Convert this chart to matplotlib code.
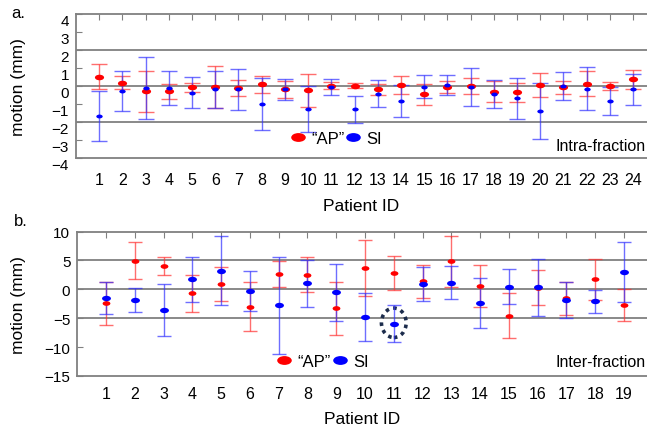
import numpy as np
import matplotlib
matplotlib.use('Agg')
import matplotlib.pyplot as plt
import matplotlib.transforms as mtransforms
from matplotlib.path import Path
from matplotlib.patches import Ellipse
from matplotlib.lines import Line2D

plt.rcParams['font.family'] = ['Liberation Sans', 'DejaVu Sans']

# intra-fraction (panel a)
ids_intra = np.arange(1, 25)
ap_intra = [0.52, 0.19, -0.28, -0.30, -0.07, -0.07, -0.13, 0.09, -0.19, -0.24, 0.02, 0.02,
            -0.19, 0.07, -0.46, -0.06, 0.02, -0.31, -0.35, 0.06, -0.06, 0.13, 0.02, 0.37]
ap_intra_err = [0.70, 0.37, 1.14, 0.40, 0.25, 1.17, 0.45, 0.46, 0.45, 0.93, 0.18, 0.15,
                0.33, 0.50, 0.60, 0.33, 0.45, 0.57, 0.52, 0.66, 0.36, 0.70, 0.22, 0.52]
si_intra = [-1.65, -0.28, -0.11, -0.13, -0.37, -0.19, -0.17, -1.00, -0.19, -1.30, -0.07, -1.30,
            -0.44, -0.83, -0.04, 0.06, -0.07, -0.44, -0.69, -1.39, 0.00, -0.15, -0.83, -0.17]
si_intra_err = [1.40, 1.10, 1.72, 0.94, 0.85, 1.02, 1.14, 1.43, 0.56, 1.28, 0.45, 0.75,
                0.75, 0.87, 0.65, 0.58, 1.05, 0.77, 1.14, 1.54, 0.77, 1.20, 0.80, 0.86]

# inter-fraction (panel b)
ids_inter = np.arange(1, 20)
ap_inter = [-2.44, 4.94, 4.07, -0.70, 0.93, -2.97, 2.67, 2.56, -3.26, 3.72, 2.85, 1.40,
            4.88, 0.52, -4.53, 0.29, -1.57, 1.74, -2.73]
ap_inter_err = [3.8, 3.2, 1.57, 3.23, 2.95, 4.2, 2.27, 3.08, 4.6, 4.9, 2.9, 2.85,
                4.4, 3.66, 3.9, 3.05, 2.8, 3.55, 2.75]
si_inter = [-1.45, -1.86, -3.55, 1.74, 3.26, -0.23, -2.73, 1.05, -0.52, -4.77, -5.99, 0.87,
            1.16, -2.38, 0.47, 0.35, -1.86, -2.09, 3.02]
si_inter_err = [2.8, 2.07, 4.5, 3.9, 5.9, 3.43, 8.4, 4.1, 4.97, 4.2, 3.2, 2.95,
                2.9, 4.27, 2.97, 4.97, 3.1, 2.03, 5.2]
flagged = 11  # circled patient in panel b (SI)

ellipse = Path.unit_circle().transformed(mtransforms.Affine2D().scale(1.65, 1.0))
grey = '#808080'


def panel(ax, ids, ap, ap_err, si, si_err, ylim, yticks, hlines, xmax, msz, capsize):
    ax.errorbar(ids, ap, yerr=ap_err, fmt='none', ecolor='#ff3030', alpha=0.7,
                elinewidth=1.0, capsize=capsize, capthick=1.0)
    ax.errorbar(ids, si, yerr=si_err, fmt='none', ecolor='#3030ff', alpha=0.7,
                elinewidth=1.0, capsize=capsize, capthick=1.0)
    ax.plot(ids, ap, ls='none', marker=ellipse, ms=msz[0], color='#ff0000', mec='none')
    ax.plot(ids, si, ls='none', marker=ellipse, ms=msz[1], color='#0000ff', mec='none')
    for h in hlines:
        ax.axhline(h, color=grey, lw=1.3, zorder=0)
    ax.set_xlim(0, xmax)
    ax.set_ylim(*ylim)
    ax.set_xticks(ids)
    ax.set_yticks(yticks)
    ax.spines['right'].set_visible(False)
    for s in ['left', 'top', 'bottom']:
        ax.spines[s].set_color(grey)
        ax.spines[s].set_linewidth(1.3)
    ax.tick_params(axis='x', direction='in', top=True, bottom=False, labelbottom=True,
                   length=4, color=grey, labelsize=11.5)
    ax.tick_params(axis='y', direction='in', length=4, color=grey, labelsize=11, pad=5)
    ax.set_ylabel('motion (mm)', fontsize=12.5)
    ax.set_xlabel('Patient ID', fontsize=12.5)
    handles = [Line2D([], [], ls='none', marker=ellipse, ms=10.5, color='#ff0000', mec='none'),
               Line2D([], [], ls='none', marker=ellipse, ms=10.5, color='#0000ff', mec='none')]
    return handles


fig = plt.figure(figsize=(6.47, 4.31), dpi=100)

ax1 = fig.add_axes([0.1175, 0.631, 0.8825, 0.334])
h = panel(ax1, ids_intra, ap_intra, ap_intra_err, si_intra, si_intra_err,
          (-4, 4), np.arange(-4, 5), [-2, 0, 2], 24.6, (6.6, 4.6), 5.5)
ax1.tick_params(axis='x', pad=10)
off = mtransforms.ScaledTranslation(0, -0.05, fig.dpi_scale_trans)
for t in ax1.yaxis.get_major_ticks():
    t.label1.set_transform(t.label1.get_transform() + off)
ax1.xaxis.set_label_coords(0.5, -0.275)
ax1.yaxis.set_label_coords(-0.088, 0.5)
ax1.legend(h, ['\u201cAP\u201d', 'SI'], ncol=2, frameon=False, loc='center',
           bbox_to_anchor=(0.455, 0.135), handlelength=1.0, handletextpad=0.3,
           columnspacing=0.05, fontsize=12, borderpad=0)
ax1.text(0.998, 0.09, 'Intra-fraction', transform=ax1.transAxes, ha='right', va='center',
         fontsize=11.5)

ax2 = fig.add_axes([0.1195, 0.1253, 0.8805, 0.335])
h = panel(ax2, ids_inter, ap_inter, ap_inter_err, si_inter, si_inter_err,
          (-15, 10), np.arange(-15, 11, 5), [-5, 0, 5], 19.8, (5.6, 6.4), 5.3)
ax2.tick_params(axis='x', pad=7)
ax2.xaxis.set_label_coords(0.5, -0.245)
ax2.yaxis.set_label_coords(-0.09, 0.5)
ax2.legend(h, ['\u201cAP\u201d', 'SI'], ncol=2, frameon=False, loc='center',
           bbox_to_anchor=(0.43, 0.1), handlelength=1.0, handletextpad=0.3,
           columnspacing=0.05, fontsize=12, borderpad=0)
ax2.text(0.998, 0.1, 'Inter-fraction', transform=ax2.transAxes, ha='right', va='center',
         fontsize=11.5)
ax2.add_patch(Ellipse((flagged, si_inter[flagged - 1] + 0.2), 0.86, 5.1, fill=False,
                      ls=(0, (1, 1.2)), lw=2.6, ec='#1c2c4c'))

fig.text(0.018, 0.968, 'a.', fontsize=12, va='center')
fig.text(0.022, 0.485, 'b.', fontsize=12, va='center')

fig.savefig('out.png', dpi=100)
